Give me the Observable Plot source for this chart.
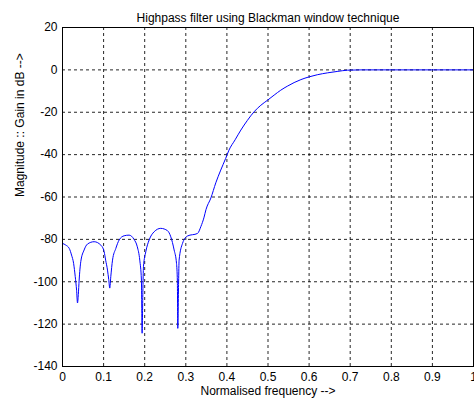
<!DOCTYPE html>
<html>
<head>
<meta charset="utf-8">
<script src="https://cdn.jsdelivr.net/npm/d3@7"></script>
<script src="https://cdn.jsdelivr.net/npm/@observablehq/plot@0.6"></script>
<style>
  html, body { margin: 0; padding: 0; background: white; }
</style>
</head>
<body>
<div id="chart"></div>
<script>
const titleText = "Highpass filter using Blackman window technique";
const xLabelText = "Normalised frequency -->";
const yLabelText = "Magnitude :: Gain in dB -->";

const xTicks = [0, 0.1, 0.2, 0.3, 0.4, 0.5, 0.6, 0.7, 0.8, 0.9, 1];
const yTicks = [20, 0, -20, -40, -60, -80, -100, -120, -140];

const freq = [
  0, 0.008, 0.0165, 0.022, 0.027, 0.031, 0.0343, 0.0365, 0.0385, 0.0405, 0.0445, 0.0526, 0.0608, 0.077, 0.0932, 0.1013, 0.105, 0.1095, 0.1125, 0.115,
  0.1175, 0.1217, 0.1297, 0.1378, 0.15, 0.162, 0.174, 0.182, 0.188, 0.192, 0.1937, 0.1955, 0.197, 0.2027, 0.2108, 0.223, 0.239, 0.2555, 0.2635, 0.2716,
  0.2774, 0.2795, 0.2805, 0.2825, 0.2837, 0.292, 0.304, 0.3285, 0.3366, 0.3445, 0.349, 0.361, 0.373, 0.385, 0.397, 0.405, 0.42, 0.434, 0.45, 0.466,
  0.4826, 0.499, 0.515, 0.531, 0.547, 0.5635, 0.58, 0.6, 0.62, 0.645, 0.67, 0.693, 0.726, 0.8, 0.9, 1.0
];
const gain = [
  -81.9, -82.7, -84.3, -87.4, -91.3, -97.6, -104, -110, -106, -99.2, -90.5, -85, -82.2, -81.1, -82.7, -85.8, -89.8, -94.5, -99, -103,
  -97.6, -89.8, -84.3, -80.3, -78.3, -78, -80, -83.5, -89.8, -99.2, -124.3, -105, -92.9, -85.8, -80.3, -76.4, -74.8, -75.9, -78.8, -85,
  -91.3, -100, -122, -100, -89.8, -81.9, -78.4, -77.2, -74, -69.5, -66, -60.5, -53.3, -47.3, -41.8, -37.9, -33, -28.4, -23.8, -19.8,
  -16.7, -14.3, -11.9, -9.6, -7.7, -6, -4.6, -3.3, -2.3, -1.4, -0.7, -0.15, 0, 0, 0, 0
];

const data = freq.map((f, i) => ({f, g: gain[i]}));
const grid = {stroke: "#000", strokeOpacity: 0.85, strokeDasharray: "3,3", strokeWidth: 1};

const chart = Plot.plot({
  width: 474,
  height: 407,
  marginLeft: 62,
  marginRight: 1,
  marginTop: 27,
  marginBottom: 41,
  style: {fontFamily: "'Liberation Sans', Arial, sans-serif", fontSize: "12px", background: "white", color: "#000", overflow: "visible"},
  x: {domain: [0, 1]},
  y: {domain: [-140, 20]},
  marks: [
    Plot.gridX(xTicks, grid),
    Plot.gridY(yTicks, grid),
    Plot.line(data, {x: "f", y: "g", stroke: "#0000ff", strokeWidth: 1, curve: "monotone-x"}),
    Plot.frame({stroke: "#000", strokeWidth: 1}),
    Plot.axisX(xTicks, {tickSize: 0, tickPadding: 6, label: null, fontSize: 12, tickFormat: d => String(d)}),
    Plot.axisY(yTicks, {tickSize: 0, tickPadding: 5, label: null, fontSize: 12, tickFormat: d => String(d)}),
    Plot.text([titleText], {frameAnchor: "top", dy: -14, fontSize: 12, fill: "#000"}),
    Plot.text([xLabelText], {frameAnchor: "bottom", dy: 28, fontSize: 12, fill: "#000"}),
    Plot.text([yLabelText], {frameAnchor: "left", dx: -42, rotate: -90, fontSize: 12, fill: "#000"})
  ]
});
document.getElementById("chart").appendChild(chart);
</script>
</body>
</html>
